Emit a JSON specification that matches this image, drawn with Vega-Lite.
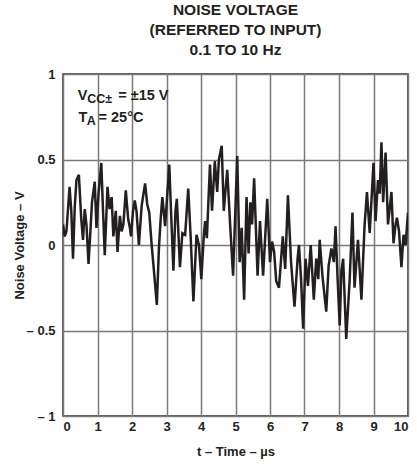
{
  "$schema": "https://vega.github.io/schema/vega-lite/v6.json",
  "autosize": {"type": "none"},
  "width": 345,
  "height": 342,
  "padding": {"left": 63, "top": 74, "right": 9, "bottom": 52},
  "background": "white",
  "config": {
    "font": "Liberation Sans",
    "view": {"stroke": "#2a2a2a", "strokeWidth": 1.5},
    "axis": {
      "grid": true,
      "gridColor": "#7a7a7a",
      "gridWidth": 1.5,
      "gridOpacity": 1,
      "domain": false,
      "ticks": false,
      "labelOverlap": false,
      "labelFont": "Liberation Sans",
      "labelFontWeight": "bold",
      "labelFontSize": 13,
      "labelColor": "#231f20",
      "titleFont": "Liberation Sans",
      "titleFontWeight": "bold",
      "titleFontSize": 13,
      "titleColor": "#231f20"
    }
  },
  "title": {
    "text": ["NOISE VOLTAGE", "(REFERRED TO INPUT)", "0.1 TO 10 Hz"],
    "font": "Liberation Sans",
    "fontSize": 15.5,
    "fontWeight": "bold",
    "color": "#231f20",
    "lineHeight": 20,
    "anchor": "middle",
    "frame": "group",
    "offset": 10
  },
  "datasets": {
    "noise": [
      {"t": 0.00, "v": 0.12}, {"t": 0.05, "v": 0.05}, {"t": 0.10, "v": 0.08}, {"t": 0.19, "v": 0.34},
      {"t": 0.24, "v": 0.20}, {"t": 0.29, "v": -0.08}, {"t": 0.34, "v": 0.22}, {"t": 0.39, "v": 0.38},
      {"t": 0.46, "v": 0.41}, {"t": 0.53, "v": 0.15}, {"t": 0.58, "v": 0.03}, {"t": 0.63, "v": 0.21},
      {"t": 0.68, "v": 0.12}, {"t": 0.74, "v": -0.11}, {"t": 0.80, "v": 0.10}, {"t": 0.84, "v": 0.25},
      {"t": 0.92, "v": 0.37}, {"t": 0.97, "v": 0.10}, {"t": 1.03, "v": 0.30}, {"t": 1.11, "v": 0.48},
      {"t": 1.16, "v": 0.20}, {"t": 1.21, "v": -0.06}, {"t": 1.29, "v": 0.34}, {"t": 1.35, "v": 0.21},
      {"t": 1.41, "v": 0.28}, {"t": 1.46, "v": 0.05}, {"t": 1.53, "v": 0.20}, {"t": 1.58, "v": -0.04},
      {"t": 1.65, "v": 0.17}, {"t": 1.70, "v": 0.08}, {"t": 1.75, "v": 0.12}, {"t": 1.82, "v": 0.32},
      {"t": 1.89, "v": 0.15}, {"t": 1.94, "v": 0.10}, {"t": 1.97, "v": 0.05}, {"t": 2.03, "v": 0.20},
      {"t": 2.08, "v": 0.26}, {"t": 2.13, "v": 0.20}, {"t": 2.20, "v": 0.00}, {"t": 2.28, "v": 0.23},
      {"t": 2.38, "v": 0.36}, {"t": 2.44, "v": 0.24}, {"t": 2.50, "v": 0.19}, {"t": 2.57, "v": 0.00},
      {"t": 2.64, "v": -0.16}, {"t": 2.72, "v": -0.35}, {"t": 2.78, "v": -0.02}, {"t": 2.83, "v": 0.15},
      {"t": 2.88, "v": 0.28}, {"t": 2.96, "v": 0.11}, {"t": 3.08, "v": 0.47}, {"t": 3.15, "v": 0.10},
      {"t": 3.20, "v": -0.15}, {"t": 3.26, "v": 0.20}, {"t": 3.30, "v": 0.27}, {"t": 3.39, "v": -0.13},
      {"t": 3.46, "v": 0.07}, {"t": 3.54, "v": 0.06}, {"t": 3.63, "v": 0.33}, {"t": 3.70, "v": 0.05},
      {"t": 3.78, "v": -0.33}, {"t": 3.87, "v": 0.06}, {"t": 3.94, "v": 0.00}, {"t": 4.01, "v": -0.20},
      {"t": 4.08, "v": 0.05}, {"t": 4.12, "v": 0.14}, {"t": 4.17, "v": 0.04}, {"t": 4.26, "v": 0.47},
      {"t": 4.32, "v": 0.20}, {"t": 4.40, "v": 0.49}, {"t": 4.47, "v": 0.31}, {"t": 4.52, "v": 0.50},
      {"t": 4.60, "v": 0.58}, {"t": 4.66, "v": 0.20}, {"t": 4.76, "v": 0.44}, {"t": 4.85, "v": 0.10},
      {"t": 4.93, "v": -0.18}, {"t": 5.05, "v": 0.52}, {"t": 5.12, "v": -0.10}, {"t": 5.18, "v": 0.10},
      {"t": 5.25, "v": -0.32}, {"t": 5.32, "v": 0.28}, {"t": 5.38, "v": -0.05}, {"t": 5.43, "v": 0.25},
      {"t": 5.48, "v": 0.12}, {"t": 5.54, "v": 0.39}, {"t": 5.64, "v": -0.18}, {"t": 5.71, "v": 0.14},
      {"t": 5.80, "v": -0.18}, {"t": 5.92, "v": 0.27}, {"t": 6.00, "v": -0.10}, {"t": 6.06, "v": 0.02},
      {"t": 6.12, "v": -0.04}, {"t": 6.18, "v": -0.21}, {"t": 6.26, "v": -0.25}, {"t": 6.37, "v": 0.05},
      {"t": 6.44, "v": -0.14}, {"t": 6.52, "v": 0.29}, {"t": 6.61, "v": -0.10}, {"t": 6.71, "v": -0.36},
      {"t": 6.80, "v": -0.08}, {"t": 6.84, "v": 0.00}, {"t": 6.90, "v": -0.20}, {"t": 6.96, "v": -0.49},
      {"t": 7.03, "v": -0.08}, {"t": 7.10, "v": -0.24}, {"t": 7.18, "v": 0.00}, {"t": 7.27, "v": -0.32},
      {"t": 7.34, "v": -0.08}, {"t": 7.40, "v": -0.20}, {"t": 7.44, "v": 0.03}, {"t": 7.52, "v": -0.18},
      {"t": 7.63, "v": -0.39}, {"t": 7.70, "v": -0.12}, {"t": 7.78, "v": -0.02}, {"t": 7.85, "v": -0.10},
      {"t": 7.90, "v": 0.11}, {"t": 7.96, "v": -0.20}, {"t": 8.02, "v": -0.47}, {"t": 8.07, "v": -0.15},
      {"t": 8.12, "v": -0.08}, {"t": 8.21, "v": -0.55}, {"t": 8.31, "v": -0.20}, {"t": 8.39, "v": 0.19},
      {"t": 8.45, "v": -0.25}, {"t": 8.55, "v": 0.03}, {"t": 8.65, "v": -0.32}, {"t": 8.74, "v": 0.11},
      {"t": 8.81, "v": 0.31}, {"t": 8.89, "v": 0.07}, {"t": 9.00, "v": 0.48}, {"t": 9.06, "v": 0.14},
      {"t": 9.13, "v": 0.38}, {"t": 9.18, "v": 0.30}, {"t": 9.23, "v": 0.60}, {"t": 9.28, "v": 0.25},
      {"t": 9.35, "v": 0.54}, {"t": 9.42, "v": 0.12}, {"t": 9.52, "v": 0.31}, {"t": 9.58, "v": 0.01},
      {"t": 9.64, "v": 0.12}, {"t": 9.68, "v": 0.16}, {"t": 9.74, "v": 0.08}, {"t": 9.81, "v": -0.13},
      {"t": 9.87, "v": 0.06}, {"t": 9.93, "v": 0.00}, {"t": 10.00, "v": 0.19}
    ],
    "notes": [
      {"label": "V", "t": 0.43, "v": 0.85},
      {"label": "= ±15 V", "t": 1.6, "v": 0.85},
      {"label": "T", "t": 0.45, "v": 0.72},
      {"label": "= 25°C", "t": 1.03, "v": 0.72}
    ],
    "subs": [
      {"label": "CC±", "t": 0.70, "v": 0.83},
      {"label": "A", "t": 0.69, "v": 0.70}
    ]
  },
  "encoding": {
    "x": {
      "field": "t", "type": "quantitative",
      "scale": {"domain": [0, 10], "nice": false},
      "axis": {"values": [0, 1, 2, 3, 4, 5, 6, 7, 8, 9, 10], "title": "t – Time – µs", "labelPadding": 4, "titlePadding": 12}
    },
    "y": {
      "field": "v", "type": "quantitative",
      "scale": {"domain": [-1, 1], "nice": false},
      "axis": {
        "values": [-1, -0.5, 0, 0.5, 1],
        "labelExpr": "datum.value < 0 ? '– ' + (-datum.value) : '' + datum.value",
        "title": "Noise Voltage – V",
        "labelPadding": 8,
        "titlePadding": 0
      }
    }
  },
  "layer": [
    {
      "data": {"name": "noise"},
      "mark": {"type": "line", "color": "#231f20", "strokeWidth": 2.5, "strokeJoin": "miter", "clip": true}
    },
    {
      "data": {"name": "notes"},
      "mark": {"type": "text", "align": "left", "baseline": "alphabetic", "fontSize": 14.5, "fontWeight": "bold", "font": "Liberation Sans", "color": "#231f20"},
      "encoding": {"text": {"field": "label"}}
    },
    {
      "data": {"name": "subs"},
      "mark": {"type": "text", "align": "left", "baseline": "alphabetic", "fontSize": 12.5, "fontWeight": "bold", "font": "Liberation Sans", "color": "#231f20"},
      "encoding": {"text": {"field": "label"}}
    }
  ]
}
